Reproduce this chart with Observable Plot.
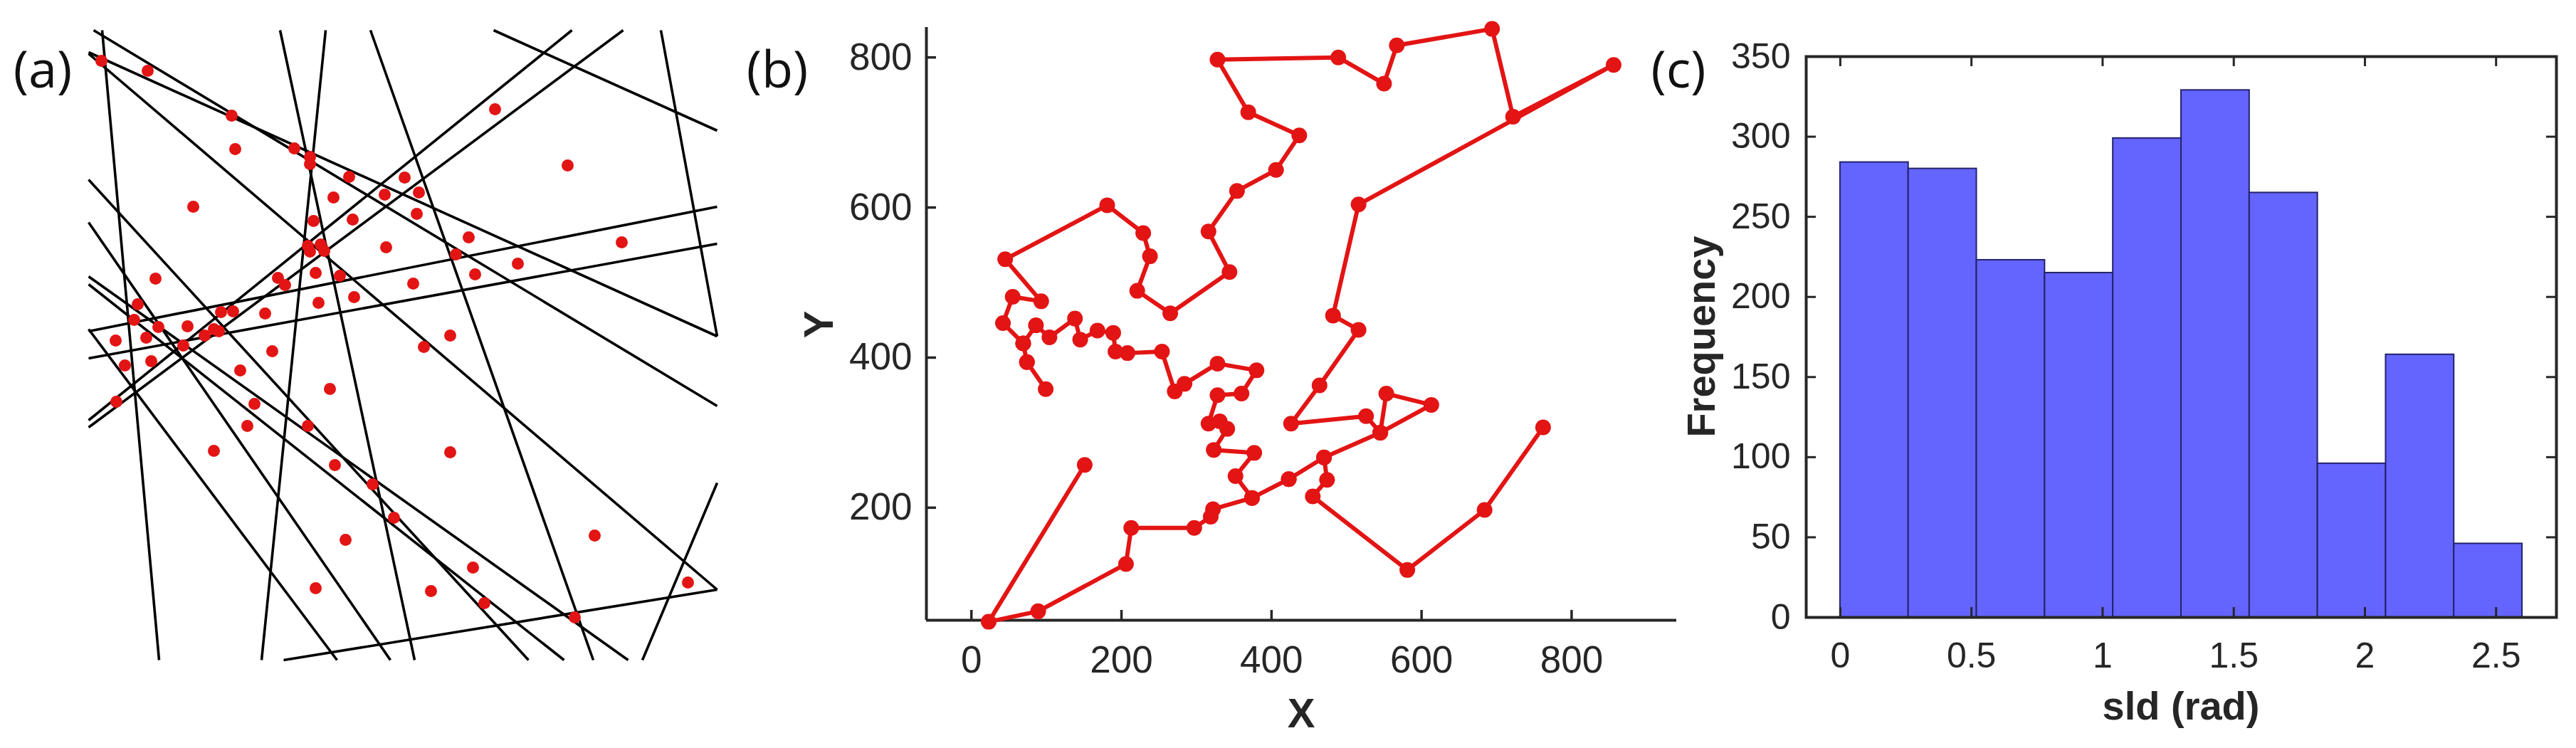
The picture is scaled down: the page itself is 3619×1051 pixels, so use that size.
<!DOCTYPE html>
<html><head><meta charset="utf-8">
<script src="https://cdn.jsdelivr.net/npm/d3@7"></script>
<script src="https://cdn.jsdelivr.net/npm/@observablehq/plot@0.6"></script>
<style>
html,body{margin:0;padding:0;background:#fff;}
#fig{position:relative;width:3619px;height:1051px;overflow:hidden;background:#fff;}
.panel{position:absolute;top:0;}
.lbl{position:absolute;font-family:"Open Sans",sans-serif;font-size:72px;line-height:1;color:#111;white-space:nowrap;}
.ax{position:absolute;font-family:"Liberation Sans",Arial,sans-serif;font-weight:bold;line-height:1;color:#262626;white-space:nowrap;}
</style></head><body><div id="fig"></div>
<script>
// ---------- Panel (a): random lines and points (arbitrary units, box 0..883 x 0..885) ----------
const lineX1 = [19, 7, 0, 804, 569, 679, 751, 269, 333, 396, 0, 0, 0, 0, 0, 0, 0, 274, 778, 0];
const lineY1 = [885, 885, 854, 885, 885, 885, 885, 885, 885, 885, 462, 424, 675, 615, 539, 528, 465, 0, 0, 852];
const lineX2 = [99, 883, 883, 883, 883, 0, 0, 458, 243, 709, 883, 883, 618, 424, 758, 668, 349, 883, 883, 883];
const lineY2 = [0, 357, 455, 455, 744, 337, 327, 0, 0, 0, 637, 585, 0, 0, 0, 0, 0, 99, 249, 99];

const ptsX = [18,83,201,206,289,311,311,366,444,344,416,147,316,371,308,326,331,311,418,319,353,94,266,276,323,373,69,186,203,248,64,98,139,176,183,163,38,81,571,673,464,461,534,516,749,603,543,456,508,133,51,88,258,213,39,339,233,223,308,176,346,399,429,361,319,471,508,711,540,481,556,842,683];
const ptsY = [842,828,765,718,719,707,697,679,678,650,654,637,617,619,582,584,575,574,580,544,540,536,537,527,502,510,500,489,490,487,478,468,469,465,462,456,449,453,774,695,657,627,594,570,587,557,542,529,456,442,414,420,434,407,363,381,360,329,329,294,274,247,200,169,101,440,292,175,130,97,80,109,60];

// ---------- Panel (b): trajectory ----------
const trajX = [151,23,89,206,213,297,319,322,374,423,470,545,613,553,545,526,426,464,516,482,516,856,722,694,567,550,489,328,369,437,406,354,316,344,265,221,238,229,181,45,93,55,42,69,74,99,74,69,86,104,138,145,168,189,192,208,254,271,284,328,380,360,328,316,331,341,323,377,352,374,423,470,474,455,581,684,762];
const trajY = [257,48,62,125,173,173,188,198,213,238,267,300,337,352,300,322,312,363,437,456,604,790,721,838,816,765,800,797,727,696,650,622,568,514,459,489,535,566,603,531,475,481,446,419,394,358,394,419,443,427,452,424,436,433,408,406,408,355,365,392,383,352,350,312,315,305,277,273,242,213,238,267,237,215,117,197,307];
const bXTicks = [0, 200, 400, 600, 800];
const bYTicks = [200, 400, 600, 800];

// ---------- Panel (c): histogram ----------
const binEdges = [0, 0.26, 0.52, 0.78, 1.04, 1.30, 1.56, 1.82, 2.08, 2.34, 2.60];
const counts = [284, 280, 223, 215, 299, 329, 265, 96, 164, 46];
const cXTicks = [0, 0.5, 1, 1.5, 2, 2.5];
const cYTicks = [0, 50, 100, 150, 200, 250, 300, 350];

const red = "#e31414";
const ink = "#262626";
const fig = document.getElementById("fig");

function place(node, left) {
  node.classList.add("panel");
  node.style.left = left + "px";
  fig.appendChild(node);
}
function addLabel(text, cls, left, top, size, rotate) {
  const d = document.createElement("div");
  d.className = cls;
  d.textContent = text;
  d.style.left = left + "px";
  d.style.top = top + "px";
  d.style.fontSize = size + "px";
  d.style.transform = "translate(-50%,-50%)" + (rotate ? " rotate(-90deg)" : "");
  fig.appendChild(d);
}

// Panel a
const lines = lineX1.map((d, i) => ({x1: d, y1: lineY1[i], x2: lineX2[i], y2: lineY2[i]}));
const pts = ptsX.map((d, i) => ({x: d, y: ptsY[i]}));
const pa = Plot.plot({
  width: 1010, height: 1051, marginLeft: 124, marginRight: 3, marginTop: 42, marginBottom: 124,
  x: {domain: [0, 883], axis: null}, y: {domain: [0, 885], axis: null},
  style: {background: "transparent", overflow: "visible"},
  marks: [
    Plot.link(lines, {x1: "x1", y1: "y1", x2: "x2", y2: "y2", stroke: "#000", strokeWidth: 3.6}),
    Plot.dot(pts, {x: "x", y: "y", r: 8.5, fill: red})
  ]
});
place(pa, 0);

// Panel b
const traj = trajX.map((d, i) => ({x: d, y: trajY[i]}));
const pb = Plot.plot({
  width: 1290, height: 1051, marginLeft: 201, marginRight: 35, marginTop: 38, marginBottom: 180,
  x: {domain: [-60, 940]}, y: {domain: [50, 840]},
  style: {background: "transparent", fontFamily: "Liberation Sans, Arial, sans-serif", fontSize: "53px", color: ink, overflow: "visible"},
  marks: [
    Plot.ruleX([-60], {stroke: ink, strokeWidth: 4}),
    Plot.ruleY([50], {stroke: ink, strokeWidth: 4}),
    Plot.tickX(bXTicks, {x: d => d, stroke: ink, strokeWidth: 3.5, insetTop: 833 - 14}),
    Plot.tickY(bYTicks, {y: d => d, stroke: ink, strokeWidth: 3.5, insetRight: 1054 - 14}),
    Plot.axisX(bXTicks, {tickSize: 0, tickPadding: 36, label: null, tickFormat: d => String(d)}),
    Plot.axisY(bYTicks, {tickSize: 0, tickPadding: 20, label: null, tickFormat: d => String(d)}),
    Plot.line(traj, {x: "x", y: "y", stroke: red, strokeWidth: 6, strokeLinejoin: "round"}),
    Plot.dot(traj, {x: "x", y: "y", r: 11, fill: red})
  ]
});
place(pb, 1100);

// Panel c
const bars = counts.map((c, i) => ({x1: binEdges[i], x2: binEdges[i + 1], y: c}));
const pc = Plot.plot({
  width: 1229, height: 1051, marginLeft: 147, marginRight: 28, marginTop: 79, marginBottom: 184,
  x: {domain: [-0.13, 2.73]}, y: {domain: [0, 350]},
  style: {background: "transparent", fontFamily: "Liberation Sans, Arial, sans-serif", fontSize: "50px", color: ink, overflow: "visible"},
  marks: [
    Plot.rectY(bars, {x1: "x1", x2: "x2", y: "y", fill: "#6464ff", stroke: "#23236b", strokeWidth: 2}),
    Plot.frame({stroke: ink, strokeWidth: 4}),
    Plot.tickX(cXTicks, {x: d => d, stroke: ink, strokeWidth: 3, insetTop: 788 - 14}),
    Plot.tickX(cXTicks, {x: d => d, stroke: ink, strokeWidth: 3, insetBottom: 788 - 14}),
    Plot.tickY(cYTicks, {y: d => d, stroke: ink, strokeWidth: 3, insetRight: 1054 - 14}),
    Plot.tickY(cYTicks, {y: d => d, stroke: ink, strokeWidth: 3, insetLeft: 1054 - 14}),
    Plot.axisX(cXTicks, {tickSize: 0, tickPadding: 35, label: null, tickFormat: d => String(d)}),
    Plot.axisY(cYTicks, {tickSize: 0, tickPadding: 22, label: null, tickFormat: d => String(d)})
  ]
});
place(pc, 2390);

// Text labels
addLabel("(a)", "lbl", 60, 95, 72, false);
addLabel("(b)", "lbl", 1092, 95, 72, false);
addLabel("(c)", "lbl", 2358, 95, 72, false);
addLabel("Y", "ax", 1150, 456, 58, true);
addLabel("X", "ax", 1828, 1002, 58, false);
addLabel("Frequency", "ax", 2390, 473, 56, true);
addLabel("sld (rad)", "ax", 3064, 992, 56, false);
</script></body></html>
